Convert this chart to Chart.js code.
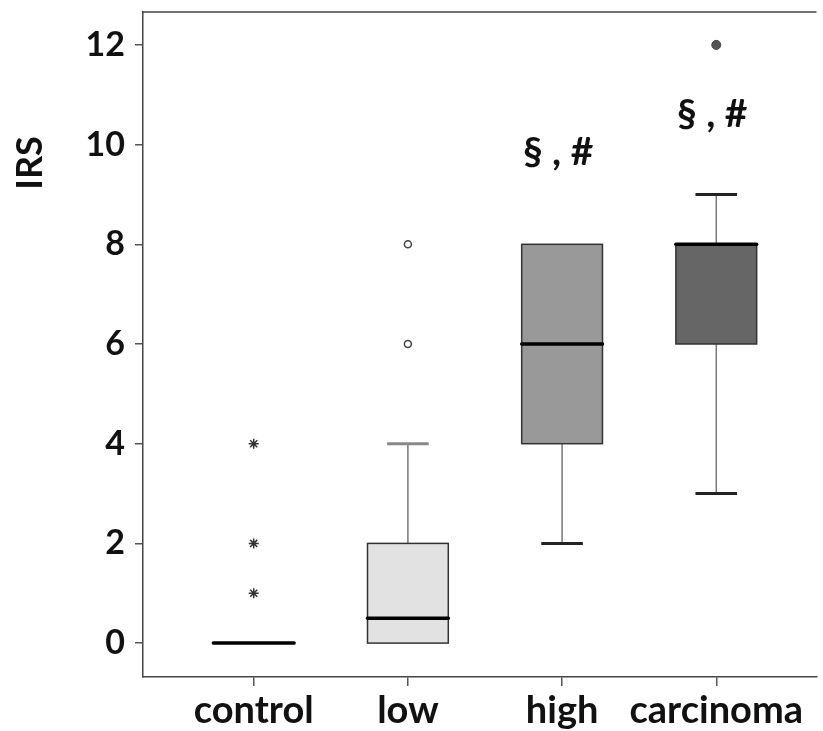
<!DOCTYPE html>
<html>
<head>
<meta charset="utf-8">
<script src="https://cdn.jsdelivr.net/npm/chart.js@4"></script>
<style>
  html, body { margin: 0; padding: 0; background: #fff; overflow: hidden; }
</style>
</head>
<body>
<canvas id="boxChart" width="823" height="731"></canvas>
<script>
// categories and box plot summaries
const categories = ['control', 'low', 'high', 'carcinoma'];
const catPos = [1, 2, 3, 4];
const whiskerLow = [0, 0, 2, 3];
const q1 = [0, 0, 4, 6];
const median = [0, 0.5, 6, 8];
const q3 = [0, 2, 8, 8];
const whiskerHigh = [0, 4, 8, 9];

// outliers
const controlExtremes = [1, 2, 4];
const lowOutliers = [6, 8];
const carcinomaOutliers = [12];

// significance marks
const markText = ['', '', '§ , #', '§ , #'];
const markY = [null, null, 9.85, 10.6];

const yTicks = [0, 2, 4, 6, 8, 10, 12];

const boxFill = ['#ffffff', '#e2e2e2', '#999999', '#666666'];

const boxPlugin = {
    id: 'boxPlot',
    beforeDatasetsDraw(chart) {
        const { ctx, chartArea, scales: { x, y } } = chart;
        const boxHalf = 0.262;
        const capHalf = 0.135;

        // top frame line
        ctx.save();
        ctx.strokeStyle = '#444';
        ctx.lineWidth = 1.5;
        ctx.beginPath();
        ctx.moveTo(chartArea.left, chartArea.top);
        ctx.lineTo(chartArea.right, chartArea.top);
        ctx.stroke();

        catPos.forEach((c, i) => {
            const cx = x.getPixelForValue(c);
            const xl = x.getPixelForValue(c - boxHalf);
            const xr = x.getPixelForValue(c + boxHalf);
            const cl = x.getPixelForValue(c - capHalf);
            const cr = x.getPixelForValue(c + capHalf);

            // whiskers
            ctx.strokeStyle = '#777';
            ctx.lineWidth = 1.5;
            if (whiskerHigh[i] > q3[i]) {
                ctx.beginPath();
                ctx.moveTo(cx, y.getPixelForValue(q3[i]));
                ctx.lineTo(cx, y.getPixelForValue(whiskerHigh[i]));
                ctx.stroke();
                ctx.strokeStyle = i === 1 ? '#888' : '#222';
                ctx.lineWidth = 3;
                ctx.beginPath();
                ctx.moveTo(cl, y.getPixelForValue(whiskerHigh[i]));
                ctx.lineTo(cr, y.getPixelForValue(whiskerHigh[i]));
                ctx.stroke();
            }
            ctx.strokeStyle = '#777';
            ctx.lineWidth = 1.5;
            if (whiskerLow[i] < q1[i]) {
                ctx.beginPath();
                ctx.moveTo(cx, y.getPixelForValue(q1[i]));
                ctx.lineTo(cx, y.getPixelForValue(whiskerLow[i]));
                ctx.stroke();
                ctx.strokeStyle = '#222';
                ctx.lineWidth = 3;
                ctx.beginPath();
                ctx.moveTo(cl, y.getPixelForValue(whiskerLow[i]));
                ctx.lineTo(cr, y.getPixelForValue(whiskerLow[i]));
                ctx.stroke();
            }

            // box
            if (q3[i] > q1[i]) {
                const yt = y.getPixelForValue(q3[i]);
                const yb = y.getPixelForValue(q1[i]);
                ctx.fillStyle = boxFill[i];
                ctx.fillRect(xl, yt, xr - xl, yb - yt);
                ctx.strokeStyle = '#333';
                ctx.lineWidth = 1.5;
                ctx.strokeRect(xl, yt, xr - xl, yb - yt);
            }

            // median
            ctx.strokeStyle = '#000';
            ctx.lineWidth = 3.5;
            ctx.lineCap = 'round';
            ctx.beginPath();
            ctx.moveTo(xl, y.getPixelForValue(median[i]));
            ctx.lineTo(xr, y.getPixelForValue(median[i]));
            ctx.stroke();
            ctx.lineCap = 'butt';
        });
        ctx.restore();
    },
    afterDraw(chart) {
        const { ctx, scales: { x, y } } = chart;
        ctx.save();
        ctx.fillStyle = '#111';
        ctx.font = 'bold 39px Lato';
        ctx.textAlign = 'center';
        ctx.textBaseline = 'middle';
        catPos.forEach((c, i) => {
            if (markText[i]) {
                ctx.fillText(markText[i], x.getPixelForValue(c) - 4, y.getPixelForValue(markY[i]));
            }
        });
        // y axis title
        ctx.translate(30, 163);
        ctx.rotate(-Math.PI / 2);
        ctx.font = 'bold 36px Lato';
        ctx.fillText('IRS', 0, 0);
        ctx.restore();
    }
};

new Chart(document.getElementById('boxChart').getContext('2d'), {
    type: 'scatter',
    data: {
        datasets: [
            {
                label: 'control extremes',
                data: controlExtremes.map(v => ({ x: 1, y: v })),
                pointStyle: 'star',
                radius: 5,
                borderColor: '#333',
                borderWidth: 1.5,
                backgroundColor: '#333'
            },
            {
                label: 'low outliers',
                data: lowOutliers.map(v => ({ x: 2, y: v })),
                pointStyle: 'circle',
                radius: 3.5,
                borderColor: '#444',
                borderWidth: 1.5,
                backgroundColor: '#fff'
            },
            {
                label: 'carcinoma outliers',
                data: carcinomaOutliers.map(v => ({ x: 4, y: v })),
                pointStyle: 'circle',
                radius: 4.5,
                borderColor: '#444',
                borderWidth: 1,
                backgroundColor: '#555'
            }
        ]
    },
    options: {
        responsive: false,
        animation: false,
        layout: { padding: { top: 12, right: 0, left: 0, bottom: 0 } },
        plugins: {
            legend: { display: false },
            tooltip: { enabled: false }
        },
        scales: {
            x: {
                type: 'linear',
                min: 0.282,
                max: 4.65,
                afterBuildTicks: (scale) => { scale.ticks = catPos.map(v => ({ value: v })); },
                afterFit: (scale) => { scale.height = 54; scale.paddingLeft = 0; scale.paddingRight = 0; },
                grid: { drawOnChartArea: false, drawTicks: true, tickLength: 9, color: '#555', lineWidth: 1.5 },
                border: { display: true, color: '#444', width: 1.5 },
                ticks: {
                    autoSkip: false,
                    maxRotation: 0,
                    padding: 6,
                    color: '#111',
                    font: { family: 'Lato', size: 38, weight: 'bold', lineHeight: 1.0 },
                    callback: (v) => categories[catPos.indexOf(v)] || ''
                }
            },
            y: {
                min: -0.68,
                max: 12.66,
                afterBuildTicks: (scale) => { scale.ticks = yTicks.map(v => ({ value: v })); },
                afterFit: (scale) => { scale.width = 143; scale.paddingTop = 0; scale.paddingBottom = 0; },
                grid: { drawOnChartArea: false, drawTicks: true, tickLength: 8, color: '#555', lineWidth: 1.5 },
                border: { display: true, color: '#444', width: 1.5 },
                ticks: {
                    padding: 10,
                    color: '#111',
                    font: { family: 'Lato', size: 34, weight: 'bold' }
                }
            }
        }
    },
    plugins: [boxPlugin]
});
</script>
</body>
</html>
